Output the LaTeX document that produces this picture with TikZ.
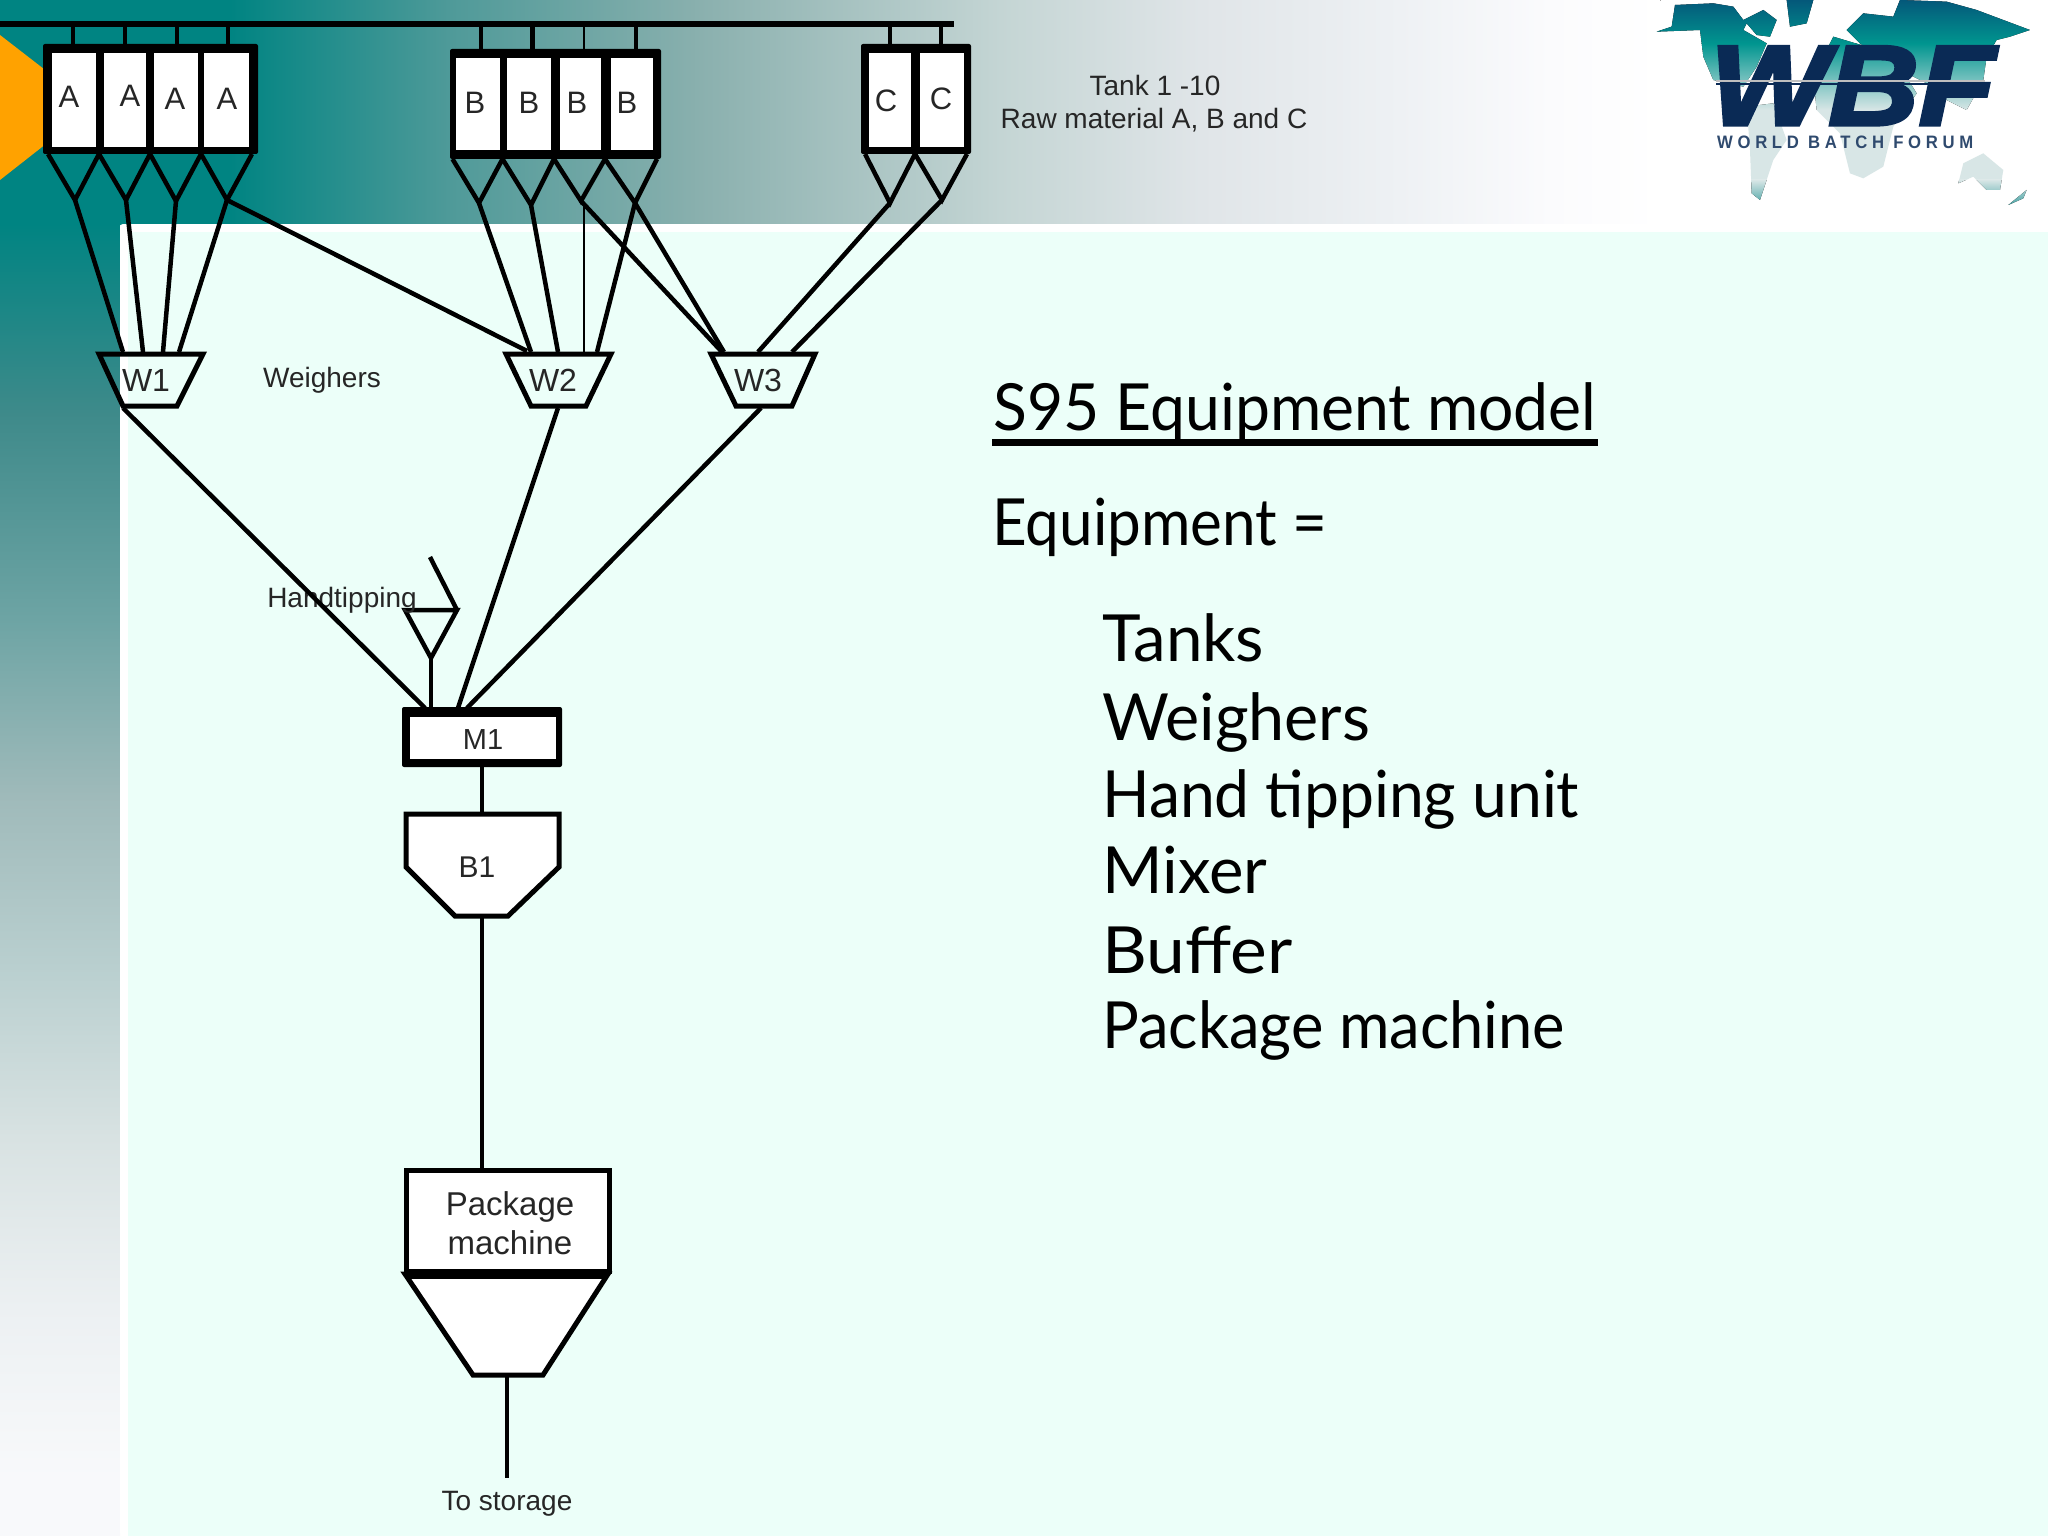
\documentclass[tikz,border=0pt]{standalone}
\usepackage{graphicx}
\usepackage{fontspec}
\setmainfont{Liberation Sans}
\newfontfamily\handfont{Lato}
\newfontfamily\logofont[LetterSpace=28]{Liberation Sans Bold}
\newfontfamily\wbffont[FakeBold=3]{Liberation Sans Bold Italic}
\definecolor{mint}{HTML}{ECFFF9}
\definecolor{tA}{HTML}{008482}
\definecolor{tB}{HTML}{4F9A99}
\definecolor{tC}{HTML}{8AB0AE}
\definecolor{tD}{HTML}{C4D5D4}
\definecolor{tE}{HTML}{E0E5E8}
\definecolor{tF}{HTML}{EEF1F4}
\definecolor{tG}{HTML}{FBFBFD}
\definecolor{lA}{HTML}{3E8A8A}
\definecolor{lB}{HTML}{6FA5A5}
\definecolor{lC}{HTML}{9FBABA}
\definecolor{lD}{HTML}{B9CFCF}
\definecolor{lE}{HTML}{D8E2E2}
\definecolor{lF}{HTML}{ECF0F2}
\definecolor{lG}{HTML}{F8F9FB}
\definecolor{orangeT}{HTML}{FFA200}
\definecolor{navy}{HTML}{0A2A55}
\definecolor{mA}{HTML}{04587A}
\definecolor{mB}{HTML}{00958F}
\definecolor{mC}{HTML}{D8E6E6}
\definecolor{mD}{HTML}{3F9FA0}
\newcommand{\hseg}[4]{\fill[left color=#3,right color=#4] (#1,0) rectangle (#2+0.6,224);}
\newcommand{\vseg}[4]{\fill[top color=#3,bottom color=#4] (0,#1) rectangle (120,#2+0.6);}
\newcommand{\cell}[5]{\node[cellbox,minimum width={(#3-#2)*1pt},minimum height={(#5-#4)*1pt}] (#1) at ({(#2+#3)/2},{(#4+#5)/2}) {};}
\newcommand{\backing}[5]{\node[backbox,minimum width={(#3-#2)*1pt},minimum height={(#5-#4)*1pt}] (#1) at ({(#2+#3)/2},{(#4+#5)/2}) {};}
\newcommand{\cone}[6]{\coordinate (#1) at (#3,#6); \draw[conel] (#2,#5) -- (#1) -- (#4,#5);}
\newcommand{\stub}[4][stubl]{\coordinate (#2b) at (#3,24); \coordinate (#2t) at (#3,#4); \draw[#1] (#2b) -- (#2t);}
\newcommand{\fitw}[2]{\resizebox{#1pt}{\height}{#2}}
\tikzset{
  cellbox/.style={rectangle,fill=white,inner sep=0pt,outer sep=0pt},
  backbox/.style={rectangle,fill=black,rounded corners=2pt,inner sep=0pt,outer sep=0pt},
  stubl/.style={line width=4.5pt},
  thinl/.style={line width=1.5pt},
  busl/.style={line width=5.5pt},
  conel/.style={line width=4.5pt,line join=miter},
  feedl/.style={line width=4.5pt},
  shapel/.style={line width=5pt,line join=miter},
  lab/.style={inner sep=0pt,font=\fontsize{28}{34}\selectfont,text=black!85},
  tanklab/.style={inner sep=0pt,font=\fontsize{31}{36}\selectfont,text=black!85},
  wlab/.style={inner sep=0pt,font=\fontsize{32}{36}\selectfont,text=black!85},
  hand/.style={inner sep=0pt,anchor=base west,font=\handfont\fontsize{65}{70}\selectfont,text=black},
}
\begin{document}
\begin{tikzpicture}[x=1pt,y=-1pt]
\useasboundingbox (0,0) rectangle (2048,1536);
% background
\fill[white] (0,0) rectangle (2048,1536);
\hseg{0}{230}{tA}{tA}
\hseg{230}{450}{tA}{tB}
\hseg{450}{700}{tB}{tC}
\hseg{700}{1000}{tC}{tD}
\hseg{1000}{1200}{tD}{tE}
\hseg{1200}{1400}{tE}{tF}
\hseg{1400}{1550}{tF}{tG}
\hseg{1550}{1660}{tG}{white}
\vseg{224}{413}{tA}{lA}
\vseg{413}{626}{lA}{lB}
\vseg{626}{796}{lB}{lC}
\vseg{796}{967}{lC}{lD}
\vseg{967}{1137}{lD}{lE}
\vseg{1137}{1307}{lE}{lF}
\vseg{1307}{1478}{lF}{lG}
\vseg{1478}{1536}{lG}{lG}
\fill[white,rounded corners=3pt] (120,224) -- (2048,224) -- (2048,1536) -- (120,1536) -- cycle;
\fill[mint] (128,232) rectangle (2048,1536);
\fill[orangeT] (0,35) -- (93,107) -- (0,180) -- cycle;

% logo
\begin{scope}[shift={(1600,0)},x=0.3333pt,y=-0.3333pt]
\clip (170,95) -- (215,80) -- (225,15) -- (340,10) -- (400,20) -- (430,60) -- (490,30) -- (530,60) -- (510,110) -- (470,105) -- (440,70) -- (430,90) -- (500,130) -- (470,200) -- (430,260) -- (340,240) -- (310,170) -- (300,90) -- cycle
 (560,0) -- (640,0) -- (620,70) -- (570,80) -- cycle
 (740,90) -- (790,40) -- (880,50) -- (900,0) -- (1040,5) -- (1130,30) -- (1290,90) -- (1230,110) -- (1190,120) -- (1160,170) -- (1150,240) -- (1100,330) -- (1040,300) -- (1000,260) -- (880,200) -- (780,130) -- cycle
 (700,110) -- (800,140) -- (900,200) -- (950,280) -- (880,380) -- (850,500) -- (790,535) -- (750,520) -- (720,400) -- (650,330) -- (640,230) -- cycle
 (440,320) -- (520,310) -- (560,420) -- (520,480) -- (480,600) -- (455,580) -- (450,450) -- cycle
 (1075,550) -- (1090,490) -- (1150,460) -- (1210,510) -- (1200,570) -- (1160,570) -- (1120,530) -- cycle
 (1225,615) -- (1280,570) -- (1270,595) -- cycle;
\fill[top color=mA,bottom color=mB] (0,0) rectangle (1344,130);
\fill[top color=mB,bottom color=mC] (0,130) rectangle (1344,330);
\fill[mC] (0,330) rectangle (1344,540);
\fill[top color=mC,bottom color=mD] (0,540) rectangle (1344,620);
\end{scope}
\node[inner sep=0pt,anchor=base west,text=navy,font=\wbffont\fontsize{114}{120}\selectfont] (wbf) at (1710,125) {\fitw{285}{WBF}};
\coordinate (wbfsl) at (1716,81); \coordinate (wbfsr) at (1985,81);
\draw[line width=2pt,color=black!25] (wbfsl) -- (wbfsr);
\coordinate (wbfdl) at (1716,84); \coordinate (wbfdr) at (1983,84);
\draw[line width=2pt,color=navy] (wbfdl) -- (wbfdr);
\node[inner sep=0pt,anchor=base west,text=navy!85,font=\logofont\fontsize{18}{20}\selectfont] (wbfname) at (1717,149) {\fitw{256}{WORLD BATCH FORUM}};

% bus
\coordinate (busL) at (0,24); \coordinate (busR) at (954,24);
\draw[busl] (busL) -- (busR);

% stubs
\stub{sa1}{73}{44}\stub{sa2}{125}{44}\stub{sa3}{177}{44}\stub{sa4}{228}{44}
\stub{sb1}{481}{49}\stub{sb2}{532.5}{49}\stub{sb4}{636}{49}
\stub{sc1}{890}{44}\stub{sc2}{941}{44}

% tank groups
\backing{groupA}{43}{258}{44}{154}
\cell{a1}{52}{96}{53}{147}\cell{a2}{104}{146}{53}{147}\cell{a3}{154}{198}{53}{147}\cell{a4}{204}{249}{53}{147}
\node[tanklab] (la1) at (69,97) {A};
\node[tanklab] (la2) at (130,96) {A};
\node[tanklab] (la3) at (175,99) {A};
\node[tanklab] (la4) at (227,99) {A};
\backing{groupB}{450}{661}{49}{159}
\cell{b1}{456}{500}{58}{150}\cell{b2}{507}{551}{58}{150}\cell{b3}{560}{601}{58}{150}\cell{b4}{611}{653}{58}{150}
\node[tanklab] (lb1) at (475,103) {B};
\node[tanklab] (lb2) at (529,103) {B};
\node[tanklab] (lb3) at (577,103) {B};
\node[tanklab] (lb4) at (627,103) {B};
\backing{groupC}{861}{971}{44}{154}
\cell{c1}{869}{911}{53}{147}\cell{c2}{920}{964}{53}{147}
\node[tanklab] (lc1) at (886,101) {C};
\node[tanklab] (lc2) at (941,99) {C};

% cones
\cone{ta1}{48}{75}{99}{154}{200}
\cone{ta2}{99}{126}{150}{154}{200}
\cone{ta3}{150}{176}{201}{154}{201}
\cone{ta4}{201}{227}{252}{154}{200}
\cone{tb1}{452.5}{479}{502.5}{159}{203}
\cone{tb2}{502.5}{531}{554}{159}{205}
\cone{tb3}{554}{581}{605}{159}{201}
\cone{tb4}{605}{635}{657}{159}{203}
\cone{tc1}{865}{890}{915}{154}{203}
\cone{tc2}{915}{942}{967}{154}{200}

% weighers
\coordinate (w1tl) at (99,354); \coordinate (w1tr) at (203,354); \coordinate (w1br) at (177,406); \coordinate (w1bl) at (123,406);
\coordinate (w2tl) at (506,354); \coordinate (w2tr) at (611,354); \coordinate (w2br) at (586,406); \coordinate (w2bl) at (531,406);
\coordinate (w3tl) at (711,354); \coordinate (w3tr) at (815,354); \coordinate (w3br) at (792,406); \coordinate (w3bl) at (736,406);
\draw[shapel] (w1tl) -- (w1tr) -- (w1br) -- (w1bl) -- cycle;
\draw[shapel] (w2tl) -- (w2tr) -- (w2br) -- (w2bl) -- cycle;
\draw[shapel] (w3tl) -- (w3tr) -- (w3br) -- (w3bl) -- cycle;
\node[wlab] (w1) at (146,380) {W1};
\node[wlab] (w2) at (553,380) {W2};
\node[wlab] (w3) at (758,380) {W3};
\node[lab] (weighers) at (322,380) {Weighers};

% weigher ports
\coordinate (p11) at (123,352); \coordinate (p12) at (143,352); \coordinate (p13) at (163,352); \coordinate (p14) at (179,352);
\coordinate (p21) at (527,351); \coordinate (p22) at (531,352); \coordinate (p23) at (558,352); \coordinate (p24) at (584,352); \coordinate (p25) at (597,352);
\coordinate (p31) at (722,352); \coordinate (p32) at (724,352); \coordinate (p33) at (758,352); \coordinate (p34) at (792,352);
\coordinate (sb3t) at (584,49);

% tank to weigher lines
\draw[feedl] (ta1) -- (p11);
\draw[feedl] (ta2) -- (p12);
\draw[feedl] (ta3) -- (p13);
\draw[feedl] (ta4) -- (p14);
\draw[feedl] (ta4) -- (p21);
\draw[feedl] (tb1) -- (p22);
\draw[feedl] (tb2) -- (p23);
\draw[feedl] (tb4) -- (p25);
\draw[feedl] (tb3) -- (p31);
\draw[feedl] (tb4) -- (p32);
\draw[feedl] (tc1) -- (p33);
\draw[feedl] (tc2) -- (p34);
\coordinate (sb3b) at (584,24);
\draw[thinl] (sb3b) -- (sb3t);
\coordinate (tb3v) at (584,203);
\draw[thinl] (tb3v) -- (p24);

% hand tipping
\coordinate (hl) at (405,610); \coordinate (hr) at (457,610); \coordinate (htip) at (431,658); \coordinate (chute) at (430,557);
\draw[conel] (hl) -- (hr) -- (htip) -- cycle;
\draw[conel] (chute) -- (hr);
\node[lab] (handtip) at (342,600) {Handtipping};

% mixer
\backing{mixerback}{402}{562}{707}{767}
\cell{m1}{410}{556}{717}{759}
\node[inner sep=0pt,font=\fontsize{29}{34}\selectfont,text=black!85] (lm1) at (483,740) {M1};
\coordinate (m1a) at (425,708); \coordinate (m1b) at (431,708); \coordinate (m1c) at (458,708); \coordinate (m1d) at (467,708);
\coordinate (w1out) at (123,408); \coordinate (w2out) at (558,408); \coordinate (w3out) at (761,408);
\draw[feedl] (w1out) -- (m1a);
\draw[feedl] (htip) -- (m1b);
\draw[feedl] (w2out) -- (m1c);
\draw[feedl] (w3out) -- (m1d);

% buffer
\coordinate (b1a) at (406,814); \coordinate (b1b) at (559,814); \coordinate (b1c) at (559,867); \coordinate (b1d) at (508,916); \coordinate (b1e) at (455,916); \coordinate (b1f) at (406,867);
\draw[shapel,fill=white] (b1a) -- (b1b) -- (b1c) -- (b1d) -- (b1e) -- (b1f) -- cycle;
\node[inner sep=0pt,font=\fontsize{30}{34}\selectfont,text=black!85] (lb1buf) at (477,867) {B1};
\coordinate (m1out) at (482,767); \coordinate (b1in) at (482,812);
\draw[stubl] (m1out) -- (b1in);

% package machine
\node[rectangle,draw=black,line width=5pt,fill=white,inner sep=0pt,minimum width=203pt,minimum height=101pt] (pm) at (508,1221) {};
\node[inner sep=0pt,align=center,font=\fontsize{33}{39}\selectfont,text=black!85] (lpm) at (510,1223) {Package\\machine};
\coordinate (pc1) at (405,1274); \coordinate (pc2) at (473,1375); \coordinate (pc3) at (543,1375); \coordinate (pc4) at (608,1274);
\draw[shapel,fill=white] (pc1) -- (pc2) -- (pc3) -- (pc4) -- cycle;
\draw[line width=9pt] (pc1) -- (pc4);
\coordinate (b1out) at (482,917); \coordinate (pmin) at (482,1170);
\draw[stubl] (b1out) -- (pmin);
\coordinate (pmout) at (507,1377); \coordinate (storeend) at (507,1478);
\draw[stubl] (pmout) -- (storeend);
\node[lab] (storage) at (507,1504) {To storage};

% tank caption
\node[lab] (cap1) at (1155,85) {Tank 1 -10};
\node[lab] (cap2) at (1154,120) {Raw material A, B and C};

% right-hand text
\node[hand] (title) at (993,430) {\fitw{603}{S95 Equipment model}};
\coordinate (ul) at (992,442); \coordinate (ur) at (1598,442);
\draw[line width=7pt] (ul) -- (ur);
\node[hand] (equip) at (992,545) {\fitw{335}{Equipment =}};
\node[hand] (i1) at (1102,661) {\fitw{162}{Tanks}};
\node[hand] (i2) at (1102,740) {\fitw{268}{Weighers}};
\node[hand] (i3) at (1102,817) {\fitw{477}{Hand tipping unit}};
\node[hand] (i4) at (1102,893) {\fitw{165}{Mixer}};
\node[hand] (i5) at (1102,973) {\fitw{190}{Buffer}};
\node[hand] (i6) at (1102,1048) {\fitw{463}{Package machine}};
\end{tikzpicture}
\end{document}
